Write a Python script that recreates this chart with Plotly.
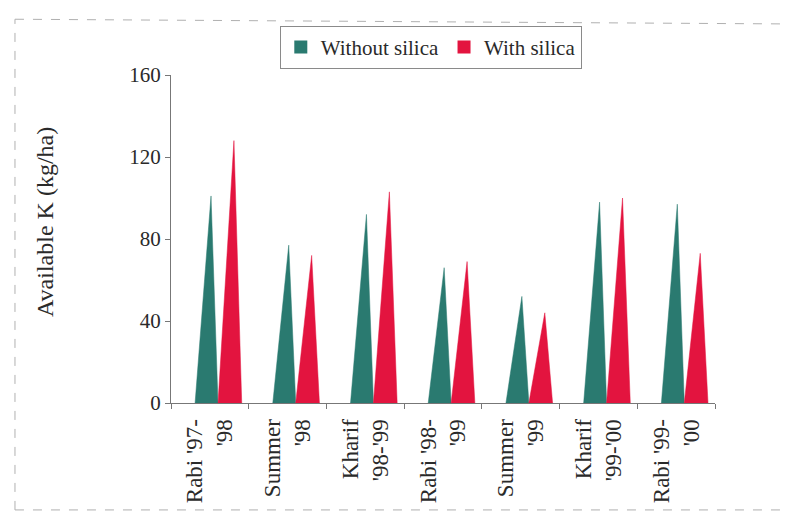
import plotly.graph_objects as go

# Seasons sampled and available potassium (kg/ha)
seasons = ["Rabi '97-<br>'98", "Summer<br>'98", "Kharif<br>'98-'99", "Rabi '98-<br>'99",
           "Summer<br>'99", "Kharif<br>'99-'00", "Rabi '99-<br>'00"]
without_silica = [101, 77, 92, 66, 52, 98, 97]
with_silica = [128, 72, 103, 69, 44, 100, 73]

TEAL = "#2a7a70"
RED = "#e3143f"
FONT = "Liberation Serif, Times New Roman, serif"

# cone footprint relative to each category centre (base left, apex, base right)
cone_shape = {
    "without": (-0.19, 0.015, 0.105),
    "with": (0.105, 0.31, 0.41),
}


def cones(values, key):
    left, apex, right = cone_shape[key]
    xs, ys = [], []
    for i, v in enumerate(values):
        xs += [i + left, i + apex, i + right, i + left, None]
        ys += [0, v, 0, 0, None]
    return xs, ys


fig = go.Figure()
for values, key, color in [(without_silica, "without", TEAL), (with_silica, "with", RED)]:
    xs, ys = cones(values, key)
    fig.add_trace(go.Scatter(x=xs, y=ys, mode="lines", fill="toself", fillcolor=color,
                             line=dict(width=0.5, color=color), showlegend=False,
                             hoverinfo="skip"))

# legend entries as square swatches
for name, color in [("Without silica", TEAL), ("With silica", RED)]:
    fig.add_trace(go.Scatter(x=[None], y=[None], mode="markers", name=name,
                             marker=dict(symbol="square", size=13, color=color)))

# dashed page frame (left, top and bottom edges)
frame_line = dict(color="#b0b0b0", width=1, dash="dash")
frame = [
    dict(type="line", xref="paper", yref="paper", x0=-0.2868, x1=-0.2868, y0=-0.326, y1=1.17,
         line=frame_line, layer="below"),
    dict(type="line", xref="paper", yref="paper", x0=-0.2868, x1=1.2, y0=1.17, y1=1.155,
         line=frame_line, layer="below"),
    dict(type="line", xref="paper", yref="paper", x0=-0.2868, x1=1.2, y0=-0.326, y1=-0.326,
         line=frame_line, layer="below"),
]

n = len(seasons)
fig.update_layout(
    width=785, height=515,
    margin=dict(l=171, r=70, t=75, b=112),
    paper_bgcolor="white", plot_bgcolor="white",
    font=dict(family=FONT, color="#2a2a2a"),
    legend=dict(orientation="h", x=0.2, y=1.15, xanchor="left", yanchor="top",
                font=dict(size=21, family=FONT, color="#2a2a2a"),
                bordercolor="#8a8a8a", borderwidth=1, bgcolor="white",
                itemwidth=30, tracegroupgap=0),
    xaxis=dict(range=[-0.5, n - 0.5], tickmode="array", tickvals=list(range(n)),
               ticktext=seasons, tickangle=-90, ticks="outside", ticklen=6,
               tickcolor="rgba(0,0,0,0)", tickfont=dict(size=23, family=FONT),
               showgrid=False, zeroline=False, showline=True, linecolor="#777777",
               linewidth=1,
               minor=dict(tickmode="array", tickvals=[i - 0.5 for i in range(n + 1)],
                          ticks="outside", ticklen=5, tickcolor="#777777", showgrid=False)),
    yaxis=dict(range=[0, 160], tickmode="linear", tick0=0, dtick=40,
               ticks="outside", ticklen=5, tickcolor="#777777",
               tickfont=dict(size=21, family=FONT),
               showgrid=False, zeroline=False, showline=True, linecolor="#777777",
               linewidth=1),
    annotations=[dict(text="Available K (kg/ha)", textangle=-90, xref="paper", yref="paper",
                      x=-0.2316, y=0.552, xanchor="center", yanchor="middle",
                      showarrow=False, font=dict(size=24, family=FONT, color="#2a2a2a"))],
    shapes=frame,
)

fig.write_html("out.html")
